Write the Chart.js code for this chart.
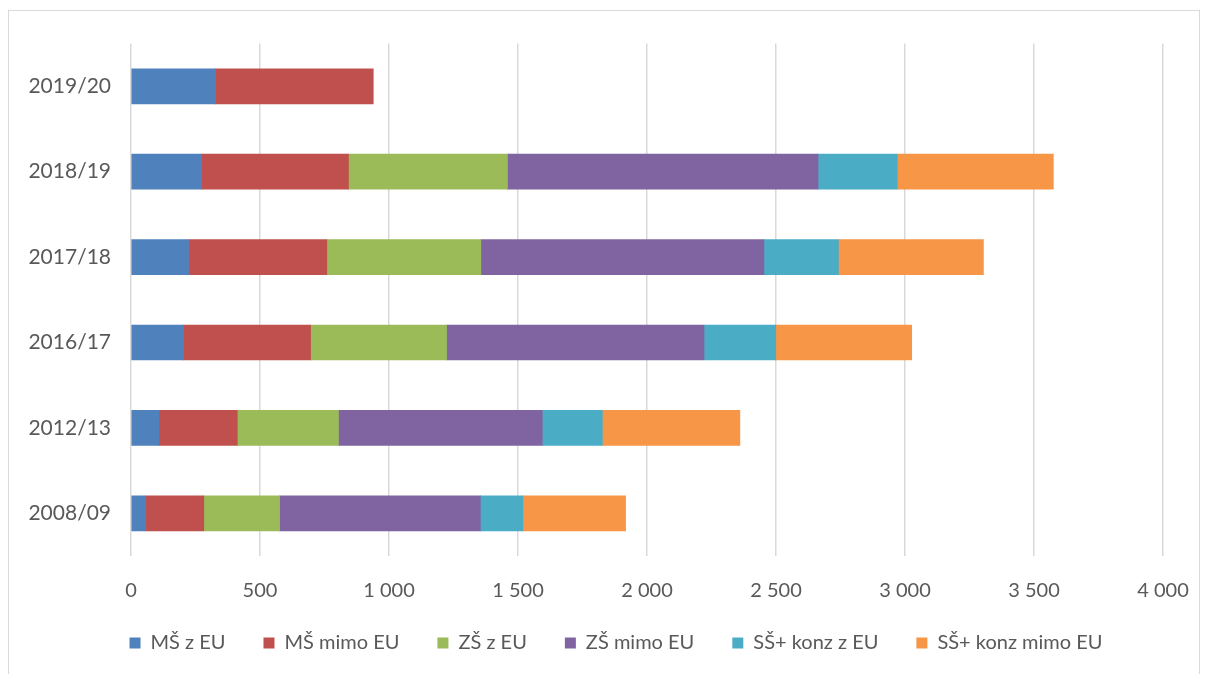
<!DOCTYPE html>
<html>
<head>
<meta charset="utf-8">
<script src="https://cdn.jsdelivr.net/npm/chart.js@4/dist/chart.umd.min.js"></script>
<style>
  html, body { margin: 0; padding: 0; background: #ffffff; overflow: hidden; }
  #wrap { position: absolute; left: 8px; top: 10px; width: 1192px; height: 680px;
          border: 1px solid #d9d9d9; box-sizing: border-box; }
  #wrap canvas { position: absolute; left: 0; top: 0; }
</style>
</head>
<body>
<div id="wrap"><canvas id="c" width="1190" height="664"></canvas></div>
<script>
const categories = ['2008/09', '2012/13', '2016/17', '2017/18', '2018/19', '2019/20'];
const msEU      = [57, 108, 204, 223, 273, 328];
const msMimoEU  = [225, 304, 492, 536, 570, 611];
const zsEU      = [294, 392, 527, 597, 616, null];
const zsMimoEU  = [778, 790, 998, 1097, 1204, null];
const ssEU      = [165, 233, 278, 289, 307, null];
const ssMimoEU  = [398, 533, 527, 562, 605, null];
const xTicks    = [0, 500, 1000, 1500, 2000, 2500, 3000, 3500, 4000];
const seriesNames = ['MŠ z EU', 'MŠ mimo EU', 'ZŠ z EU', 'ZŠ mimo EU', 'SŠ+ konz z EU', 'SŠ+ konz mimo EU'];
const seriesColors = ['#4F81BD', '#C0504D', '#9BBB59', '#8064A2', '#4BACC6', '#F79646'];
const seriesData = [msEU, msMimoEU, zsEU, zsMimoEU, ssEU, ssMimoEU];

const fmt = v => String(v).replace(/\B(?=(\d{3})+(?!\d))/g, ' ');
const FONT = 'Lato';
const TXT = '#595959';

const legendShift = {
  id: 'legendShift',
  afterLayout(chart) {
    const l = chart.legend;
    if (l) { l.left += 30; l.right += 30; l.top -= 11; l.bottom -= 11; }
  }
};

new Chart(document.getElementById('c'), {
  type: 'bar',
  data: {
    labels: categories,
    datasets: seriesData.map((d, i) => ({
      label: seriesNames[i],
      data: d,
      backgroundColor: seriesColors[i],
      borderWidth: 0,
      barThickness: 35
    }))
  },
  options: {
    indexAxis: 'y',
    responsive: false,
    animation: false,
    layout: { padding: { left: 0, right: 36, top: 30, bottom: 1 } },
    scales: {
      x: {
        stacked: true,
        min: 0, max: 4000,
        afterBuildTicks: s => { s.ticks = xTicks.map(v => ({ value: v })); },
        afterFit: s => { s.height = 50; s.paddingRight = 0; s.paddingLeft = 0; },
        ticks: { color: TXT, font: { family: FONT, size: 20 }, padding: 23, callback: v => fmt(v), maxRotation: 0 },
        grid: { color: '#d9d9d9', lineWidth: 1.5, drawTicks: false },
        border: { display: false }
      },
      y: {
        stacked: true,
        reverse: true,
        afterFit: s => { s.width = 122; },
        ticks: { color: TXT, font: { family: FONT, size: 21 }, padding: 20 },
        grid: { display: false, drawTicks: false },
        border: { display: false }
      }
    },
    plugins: {
      legend: {
        position: 'bottom',
        labels: { color: TXT, font: { family: FONT, size: 20 }, boxWidth: 11, boxHeight: 11, padding: 38 }
      },
      tooltip: { enabled: false }
    }
  },
  plugins: [legendShift]
});
</script>
</body>
</html>
